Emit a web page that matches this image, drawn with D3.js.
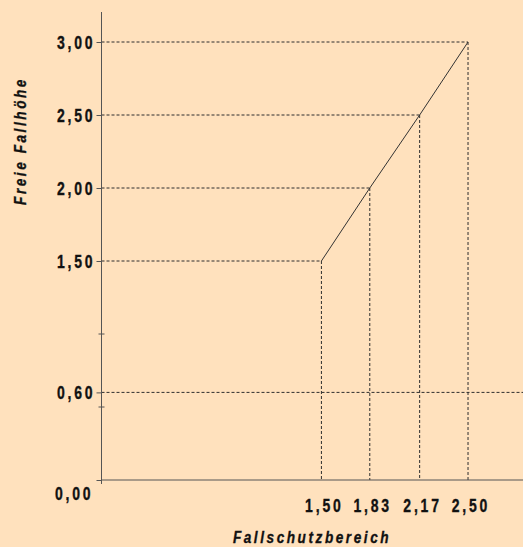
<!DOCTYPE html>
<html>
<head>
<meta charset="utf-8">
<script src="https://cdn.jsdelivr.net/npm/d3@7"></script>
<style>
  body { margin: 0; background: #ffe1bd; }
  svg { display: block; }
  .lbl { font-family: "Liberation Sans", Arial, sans-serif; font-weight: bold; fill: #111; stroke: #111; stroke-width: 0.35px; }
</style>
</head>
<body>
<div id="chart"></div>
<script>
// Fallschutzbereich (x) gegen freie Fallhöhe (y)
var fallschutz = [1.50, 1.83, 2.17, 2.50];
var fallhoehe  = [1.50, 2.00, 2.50, 3.00];
var yTicks = [0, 0.60, 1.50, 2.00, 2.50, 3.00];
var xTicks = [1.50, 1.83, 2.17, 2.50];
var minHoehe = 0.60;
var minorTicks = [0.5, 1.0];

var width = 523, height = 547;
var x0 = 101.5, y0 = 480;
var sx = 0.8; // schmale Schrift nachbilden

var x = d3.scaleLinear().domain([0, 2.875]).range([x0, width]);
var y = d3.scaleLinear().domain([0, 3.2]).range([y0, y0 - 3.2 * 146]);

var fmt = function (d) { return d3.format(".2f")(d).replace(".", ","); };

var svg = d3.select("#chart").append("svg")
  .attr("width", width)
  .attr("height", height);

var points = fallschutz.map(function (d, i) { return { x: d, y: fallhoehe[i] }; });

// gestrichelte Hilfslinien
var guides = svg.append("g")
  .attr("stroke", "#2e2e2e")
  .attr("stroke-width", 1)
  .attr("stroke-dasharray", "3,2")
  .attr("fill", "none");

guides.selectAll(".h")
  .data(points)
  .enter().append("line")
  .attr("x1", x(0)).attr("x2", function (d) { return x(d.x); })
  .attr("y1", function (d) { return y(d.y); })
  .attr("y2", function (d) { return y(d.y); });

guides.selectAll(".v")
  .data(points)
  .enter().append("line")
  .attr("x1", function (d) { return x(d.x); })
  .attr("x2", function (d) { return x(d.x); })
  .attr("y1", function (d) { return y(d.y); })
  .attr("y2", y(0));

guides.append("line")
  .attr("x1", x(0)).attr("x2", width)
  .attr("y1", y(minHoehe)).attr("y2", y(minHoehe));

// Kurve
svg.append("path")
  .datum(points)
  .attr("fill", "none")
  .attr("stroke", "#333")
  .attr("stroke-width", 1)
  .attr("d", d3.line().x(function (d) { return x(d.x); }).y(function (d) { return y(d.y); }));

// Y-Achse
var yAxis = svg.append("g")
  .attr("transform", "translate(" + x0 + ",0)")
  .call(d3.axisLeft(y).tickValues(yTicks).tickFormat(fmt).tickSize(5).tickPadding(4));
yAxis.select(".domain").remove();
yAxis.selectAll("line").attr("stroke", "#555");
yAxis.selectAll("text")
  .attr("class", "lbl")
  .attr("font-size", "17.5px")
  .attr("letter-spacing", "3.5px")
  .attr("transform", "scale(" + sx + ",1)")
  .attr("dy", function (d) { return d === 0 ? "1.1em" : "0.36em"; })
  .attr("x", function (d) { return (d === 0 ? -11 : -9) / sx + 3.5; });

svg.append("line")
  .attr("x1", x0).attr("x2", x0)
  .attr("y1", 12).attr("y2", y0 + 4)
  .attr("stroke", "#555");

// kleine Markierungen an der Achse
svg.selectAll(".minor")
  .data(minorTicks)
  .enter().append("line")
  .attr("x1", x0 - 3).attr("x2", x0 + 3)
  .attr("y1", function (d) { return y(d); })
  .attr("y2", function (d) { return y(d); })
  .attr("stroke", "#555");

// X-Achse
var xAxis = svg.append("g")
  .attr("transform", "translate(0," + y0 + ")")
  .call(d3.axisBottom(x).tickValues(xTicks).tickFormat(fmt).tickSize(0).tickPadding(20));
xAxis.select(".domain").remove();
xAxis.selectAll("text")
  .attr("class", "lbl")
  .attr("font-size", "17.5px")
  .attr("letter-spacing", "3.5px")
  .attr("transform", "scale(" + sx + ",1)")
  .attr("x", 3);

svg.append("line")
  .attr("x1", x0).attr("x2", width)
  .attr("y1", y0).attr("y2", y0)
  .attr("stroke", "#555");

// Achsentitel
svg.append("text")
  .attr("class", "lbl")
  .attr("font-style", "italic")
  .attr("font-size", "17px")
  .attr("letter-spacing", "3.2px")
  .attr("text-anchor", "middle")
  .attr("transform", "translate(312,543) scale(" + sx + ",1)")
  .text("Fallschutzbereich");

svg.append("text")
  .attr("class", "lbl")
  .attr("font-style", "italic")
  .attr("font-size", "17px")
  .attr("letter-spacing", "3.2px")
  .attr("text-anchor", "middle")
  .attr("transform", "translate(26,141) rotate(-90) scale(" + sx + ",1)")
  .text("Freie Fallhöhe");
</script>
</body>
</html>
